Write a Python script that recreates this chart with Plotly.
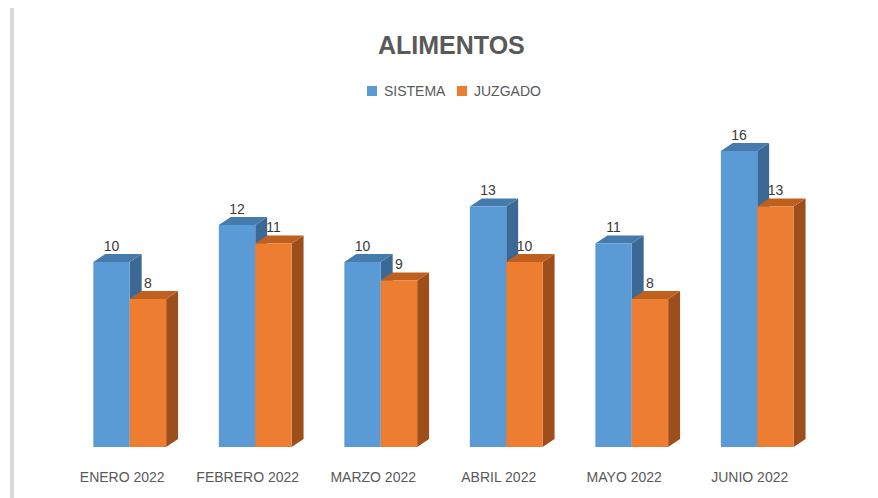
import plotly.graph_objects as go

categories = ["ENERO 2022", "FEBRERO 2022", "MARZO 2022", "ABRIL 2022", "MAYO 2022", "JUNIO 2022"]
sistema = [10, 12, 10, 13, 11, 16]
juzgado = [8, 11, 9, 10, 8, 13]

W = 0.29      # bar width (category units)
DX = 0.095    # depth in x
DY = 0.43     # depth in y (data units)

series = [
    ("SISTEMA", sistema, -W, "#5B9BD5", "#467BAD", "#3C6896"),
    ("JUZGADO", juzgado, 0.0, "#ED7D31", "#C0601F", "#9E4E1A"),
]

fig = go.Figure()

for name, vals, off, c_front, c_top, c_side in series:
    fx, fy, sx, sy, tx, ty = [], [], [], [], [], []
    for i, v in enumerate(vals):
        x0 = i + off
        x1 = x0 + W
        fx += [x0, x1, x1, x0, x0, None]
        fy += [0, 0, v, v, 0, None]
        sx += [x1, x1 + DX, x1 + DX, x1, x1, None]
        sy += [0, DY, v + DY, v, 0, None]
        tx += [x0, x1, x1 + DX, x0 + DX, x0, None]
        ty += [v, v, v + DY, v + DY, v, None]
    fig.add_trace(go.Scatter(x=sx, y=sy, fill="toself", mode="lines", line=dict(width=0),
                             fillcolor=c_side, showlegend=False, hoverinfo="skip"))
    fig.add_trace(go.Scatter(x=tx, y=ty, fill="toself", mode="lines", line=dict(width=0),
                             fillcolor=c_top, showlegend=False, hoverinfo="skip"))
    fig.add_trace(go.Scatter(x=fx, y=fy, fill="toself", mode="lines", line=dict(width=0),
                             fillcolor=c_front, name=name, showlegend=False, hoverinfo="skip"))

for name, vals, off, c_front, c_top, c_side in series:
    fig.add_trace(go.Scatter(
        x=[i + off + W / 2 for i in range(len(vals))],
        y=[v + DY for v in vals],
        mode="text", text=[str(v) for v in vals], textposition="top center",
        textfont=dict(family="Liberation Sans, Arial", size=14, color="#3a3a3a"),
        showlegend=False, hoverinfo="skip", cliponaxis=False))

# left border line
fig.add_shape(type="line", xref="paper", yref="paper",
              x0=-0.073, x1=-0.073, y0=1.32, y1=-0.18,
              line=dict(color="#D9D9D9", width=4))

# custom legend (square swatches + labels)
PLOT_L, PLOT_W, PLOT_B, PLOT_H = 59, 753, 439, 333
def px(x):
    return (x - PLOT_L) / PLOT_W
def py(y):
    return (PLOT_B - y) / PLOT_H

legend_x = [359, 449]
for (name, vals, off, c_front, c_top, c_side), lx in zip(series, legend_x):
    fig.add_shape(type="rect", xref="paper", yref="paper",
                  x0=px(lx), x1=px(lx + 10), y0=py(88), y1=py(78),
                  fillcolor=c_front, line=dict(width=0))
    fig.add_annotation(xref="paper", yref="paper", x=px(lx + 15), y=py(83),
                       xanchor="left", yanchor="middle", showarrow=False, text=name,
                       font=dict(family="Liberation Sans, Arial", size=14, color="#595959"))

fig.update_layout(
    width=878, height=498,
    margin=dict(l=59, r=66, t=106, b=59),
    paper_bgcolor="white", plot_bgcolor="white",
    title=dict(text="<b>ALIMENTOS</b>", x=0.505, xanchor="center", y=0.926, yanchor="middle",
               font=dict(family="Liberation Sans, Arial", size=25, color="#595959")),
    xaxis=dict(range=[-0.5, 5.5], tickvals=[i - 0.06 for i in range(len(categories))],
               ticktext=categories, showgrid=False, zeroline=False, showline=False,
               ticks="", ticklabelstandoff=20,
               tickfont=dict(family="Liberation Sans, Arial", size=14, color="#595959"),
               fixedrange=True),
    yaxis=dict(range=[0, 18], visible=False, showgrid=False, zeroline=False),
    showlegend=False,
)

fig.write_html("out.html")
